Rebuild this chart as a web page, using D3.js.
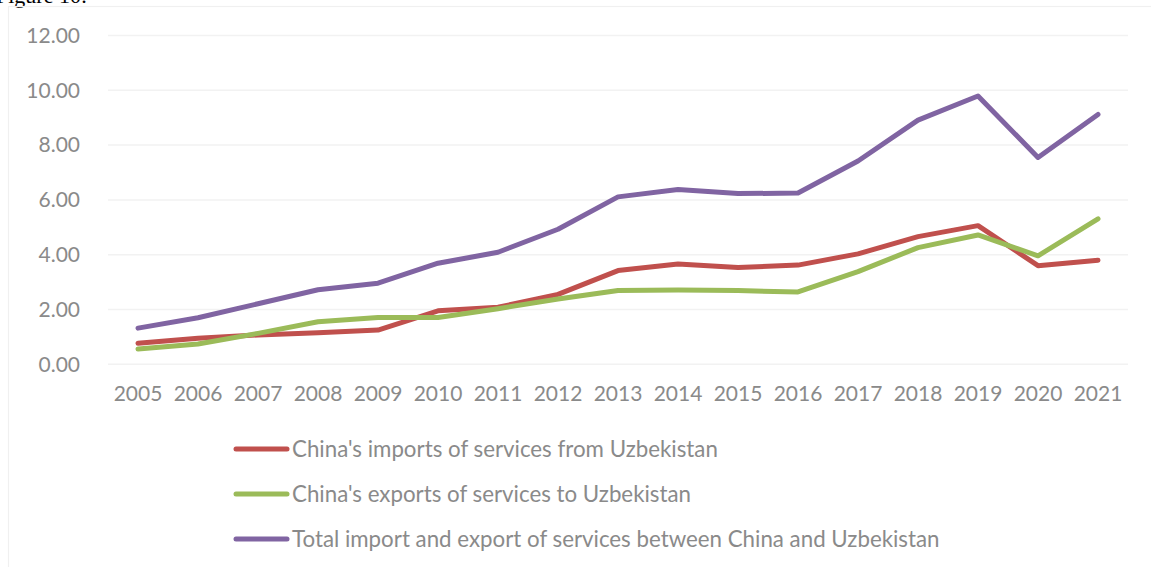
<!DOCTYPE html>
<html>
<head>
<meta charset="utf-8">
<script src="https://cdn.jsdelivr.net/npm/d3@7/dist/d3.min.js"></script>
<style>
  html, body { margin: 0; padding: 0; background: #fff; }
  svg { display: block; }
  .tick text { font-family: Lato, "Open Sans", sans-serif; fill: #8a8a8a; }
</style>
</head>
<body>
<svg id="chart" width="1151" height="567"></svg>
<script>
// Service trade between China and Uzbekistan, 2005–2021
const years = ["2005","2006","2007","2008","2009","2010","2011","2012","2013",
               "2014","2015","2016","2017","2018","2019","2020","2021"];
const imports = [0.77, 0.95, 1.07, 1.15, 1.25, 1.95, 2.08, 2.55, 3.42,
                 3.66, 3.53, 3.62, 4.03, 4.66, 5.06, 3.60, 3.80];
const exports = [0.56, 0.74, 1.13, 1.55, 1.71, 1.71, 2.03, 2.38, 2.69,
                 2.71, 2.69, 2.64, 3.38, 4.26, 4.72, 3.96, 5.31];
const totals  = [1.32, 1.70, 2.21, 2.72, 2.96, 3.69, 4.09, 4.93, 6.11,
                 6.38, 6.23, 6.25, 7.42, 8.91, 9.79, 7.55, 9.12];
const yTicks = [0, 2, 4, 6, 8, 10, 12];
const seriesNames = [
  "China's imports of services from Uzbekistan",
  "China's exports of services to Uzbekistan",
  "Total import and export of services between China and Uzbekistan"
];
const seriesColors = ["#c0504d", "#9bbb59", "#8064a2"];

const series = [imports, exports, totals].map((values, i) => ({
  name: seriesNames[i], color: seriesColors[i], values
}));

const svg = d3.select("#chart");
const plot = { left: 108, right: 1128, top: 35.5, bottom: 364.3 };

// figure caption, partly above the visible area
svg.append("text")
  .attr("x", -4).attr("y", 3)
  .attr("font-family", "'Liberation Serif', 'Times New Roman', serif")
  .attr("font-size", 22).attr("fill", "#000")
  .text("Figure 10:");

// chart area border
svg.append("rect")
  .attr("x", 8.5).attr("y", 6.5)
  .attr("width", 1200).attr("height", 700)
  .attr("fill", "none").attr("stroke", "#f0f0f0").attr("stroke-width", 1.2);

const x = d3.scaleBand().domain(years).range([plot.left, plot.right]);
const y = d3.scaleLinear().domain([0, 12]).range([plot.bottom, plot.top]);
const cx = d => x(d) + x.bandwidth() / 2;

// horizontal gridlines
svg.append("g").selectAll("line").data(yTicks).join("line")
  .attr("x1", plot.left).attr("x2", plot.right)
  .attr("y1", d => y(d)).attr("y2", d => y(d))
  .attr("stroke", "#f2f2f2").attr("stroke-width", 1.5);

// y axis labels
const yAxis = svg.append("g")
  .attr("transform", `translate(${plot.left},0)`)
  .call(d3.axisLeft(y).tickValues(yTicks).tickFormat(d3.format(".2f"))
    .tickSize(0).tickPadding(28));
yAxis.select(".domain").remove();
yAxis.selectAll("text").attr("font-size", 21);

// x axis labels
const xAxis = svg.append("g")
  .attr("transform", `translate(0,${plot.bottom})`)
  .call(d3.axisBottom(x).tickSize(0).tickPadding(22));
xAxis.select(".domain").remove();
xAxis.selectAll("text").attr("font-size", 21);

// series lines
const line = d3.line()
  .x((d, i) => cx(years[i]))
  .y(d => y(d));

svg.append("g").selectAll("path").data(series).join("path")
  .attr("d", s => line(s.values))
  .attr("fill", "none")
  .attr("stroke", s => s.color)
  .attr("stroke-width", 5)
  .attr("stroke-linejoin", "round")
  .attr("stroke-linecap", "round");

// legend
const legend = svg.append("g").attr("transform", "translate(236,449)");
const item = legend.selectAll("g").data(series).join("g")
  .attr("transform", (d, i) => `translate(0,${i * 45})`);
item.append("line")
  .attr("x1", 0).attr("x2", 51).attr("y1", 0).attr("y2", 0)
  .attr("stroke", d => d.color).attr("stroke-width", 5)
  .attr("stroke-linecap", "round");
item.append("text")
  .attr("x", 56).attr("y", 0).attr("dy", "0.35em")
  .attr("font-family", "Lato, 'Open Sans', sans-serif")
  .attr("font-size", 22.3).attr("fill", "#8a8a8a")
  .text(d => d.name);
</script>
</body>
</html>
